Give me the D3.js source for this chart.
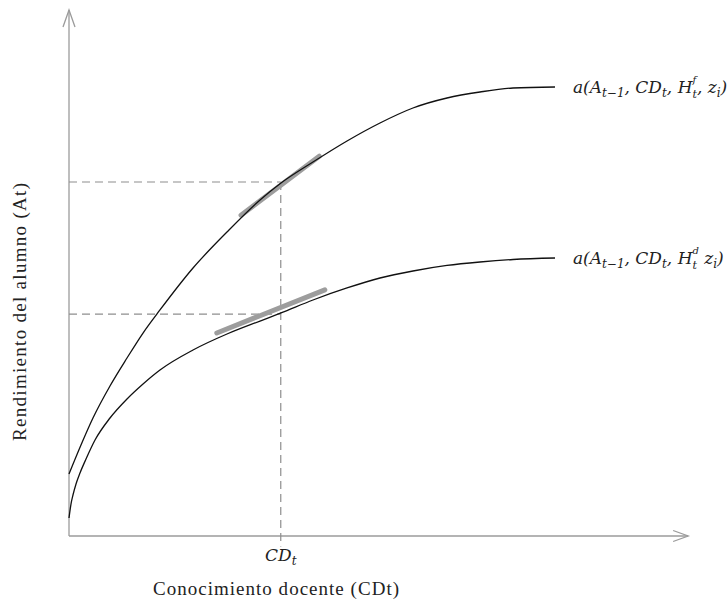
<!DOCTYPE html>
<html>
<head>
<meta charset="utf-8">
<script src="https://cdn.jsdelivr.net/npm/d3@7"></script>
<style>
  html, body { margin: 0; padding: 0; background: #fff; }
  svg { display: block; }
</style>
</head>
<body>
<svg id="chart" width="728" height="604"></svg>
<script>
// ---- data (abstract units) ----
const upperX = [0, 1.93, 3.86, 6.60, 9.34, 11.92, 14.65, 19.97, 25.44, 30.76, 34.14, 39.29, 44.77, 50.08, 55.39, 60.87, 66.18, 71.50, 78.26];
const upperY = [11.79, 17.30, 22.43, 28.52, 33.84, 38.59, 42.97, 50.95, 57.79, 63.88, 67.11, 71.10, 75.10, 78.52, 81.37, 83.27, 84.41, 85.17, 85.36];
const lowerX = [0, 0.32, 0.64, 1.13, 1.77, 2.74, 4.19, 6.60, 9.34, 11.92, 14.65, 19.97, 25.44, 30.76, 34.14, 39.29, 44.77, 50.08, 55.39, 60.87, 66.18, 71.50, 78.26];
const lowerY = [3.42, 6.08, 7.79, 9.89, 11.98, 14.64, 18.25, 22.43, 26.05, 28.90, 31.56, 35.36, 38.40, 40.87, 42.40, 44.87, 47.15, 49.05, 50.38, 51.43, 52.09, 52.57, 52.85];
const cdT         = 34.1;           // x position of CD_t
const levelUpper  = 67.3;           // dashed level for upper curve
const levelLower  = 42.2;           // dashed level for lower curve
const tangentUpper = [[27.7, 61.0], [40.3, 72.2]];
const tangentLower = [[23.8, 38.6], [41.2, 46.8]];
const xTitle = "Conocimiento docente (CDt)";
const yTitle = "Rendimiento del alumno (At)";

// ---- scales ----
const svg = d3.select("#chart");
const x = d3.scaleLinear().domain([0, 100]).range([69, 690]);
const y = d3.scaleLinear().domain([0, 100]).range([536, 10]);

const axisColor = "#9b9b9b";
const dashColor = "#8e8e8e";
const tanColor  = "#9d9d9d";

// ---- axes with open arrowheads ----
const axes = svg.append("g").attr("fill", "none").attr("stroke", axisColor).attr("stroke-width", 1.3);
axes.append("line").attr("x1", x(0)).attr("y1", y(0)).attr("x2", x(0)).attr("y2", y(100));
axes.append("line").attr("x1", x(0)).attr("y1", y(0)).attr("x2", x(99.7)).attr("y2", y(0));
axes.append("path").attr("d", `M${x(0)-6},${y(100)+17} L${x(0)},${y(100)} L${x(0)+6},${y(100)+17}`);
axes.append("path").attr("d", `M${x(99.7)-15},${y(0)-5.5} L${x(99.7)},${y(0)} L${x(99.7)-15},${y(0)+5.5}`);

// ---- dashed guides ----
const dash = svg.append("g").attr("stroke", dashColor).attr("stroke-width", 1.2).attr("stroke-dasharray", "8,5");
dash.append("line").attr("x1", x(0)).attr("y1", y(levelUpper)).attr("x2", x(cdT)).attr("y2", y(levelUpper));
dash.append("line").attr("x1", x(0)).attr("y1", y(levelLower)).attr("x2", x(cdT)).attr("y2", y(levelLower));
dash.append("line").attr("x1", x(cdT)).attr("y1", y(levelUpper)).attr("x2", x(cdT)).attr("y2", y(-2));

// ---- tangent segments ----
const tan = svg.append("g").attr("stroke", tanColor).attr("stroke-width", 5).attr("stroke-linecap", "round");
[tangentUpper, tangentLower].forEach(t => {
  tan.append("line").attr("x1", x(t[0][0])).attr("y1", y(t[0][1])).attr("x2", x(t[1][0])).attr("y2", y(t[1][1]));
});

// ---- curves ----
const line = d3.line().x(d => x(d[0])).y(d => y(d[1])).curve(d3.curveMonotoneX);
const upperPts = upperX.map((v, i) => [v, upperY[i]]);
const lowerPts = lowerX.map((v, i) => [v, lowerY[i]]);
[upperPts, lowerPts].forEach(p => {
  svg.append("path").attr("d", line(p)).attr("fill", "none").attr("stroke", "#111").attr("stroke-width", 1.3);
});

// ---- formula labels ----
const mathFont = "'DejaVu Serif', serif";
function formula(xp, yp, hSup, commaAfterH) {
  const t = svg.append("text").attr("x", xp).attr("y", yp)
    .attr("font-family", mathFont).attr("font-style", "italic").attr("font-size", 17).attr("fill", "#222");
  t.append("tspan").text("a(A");
  t.append("tspan").attr("font-size", 12).attr("dy", 4).text("t−1");
  t.append("tspan").attr("dy", -4).text(", CD");
  t.append("tspan").attr("font-size", 12).attr("dy", 4).text("t");
  t.append("tspan").attr("dy", -4).text(", H");
  const sup = t.append("tspan").attr("font-size", 10).attr("dy", -10).text(hSup);
  const w = sup.node().getComputedTextLength();
  const sub = t.append("tspan").attr("font-size", 11).attr("dx", -w).attr("dy", 15).text("t");
  const ws = sub.node().getComputedTextLength();
  t.append("tspan").attr("dx", Math.max(0, w - ws)).attr("dy", -5).text(commaAfterH ? ", z" : " z");
  t.append("tspan").attr("font-size", 12).attr("dy", 4).text("i");
  t.append("tspan").attr("dy", -4).text(")");
}
const lastU = upperPts[upperPts.length - 1];
const lastL = lowerPts[lowerPts.length - 1];
formula(x(lastU[0]) + 18, y(lastU[1]) + 6, "f", true);
formula(x(lastL[0]) + 18, y(lastL[1]) + 6, "d", false);

// ---- CD_t tick label ----
const cdl = svg.append("text").attr("x", x(cdT)).attr("y", 561).attr("text-anchor", "middle")
  .attr("font-family", mathFont).attr("font-style", "italic").attr("font-size", 17).attr("fill", "#222");
cdl.append("tspan").text("CD");
cdl.append("tspan").attr("font-size", 12).attr("dy", 4).text("t");

// ---- axis titles ----
const titleFont = "'Liberation Serif', serif";
svg.append("text").attr("x", 276).attr("y", 595).attr("text-anchor", "middle")
  .attr("font-family", titleFont).attr("font-size", 19).attr("fill", "#222")
  .attr("textLength", 246).attr("lengthAdjust", "spacing").text(xTitle);
svg.append("text").attr("transform", `translate(26,312) rotate(-90)`).attr("text-anchor", "middle")
  .attr("font-family", titleFont).attr("font-size", 19).attr("fill", "#222")
  .attr("textLength", 258).attr("lengthAdjust", "spacing").text(yTitle);
</script>
</body>
</html>
